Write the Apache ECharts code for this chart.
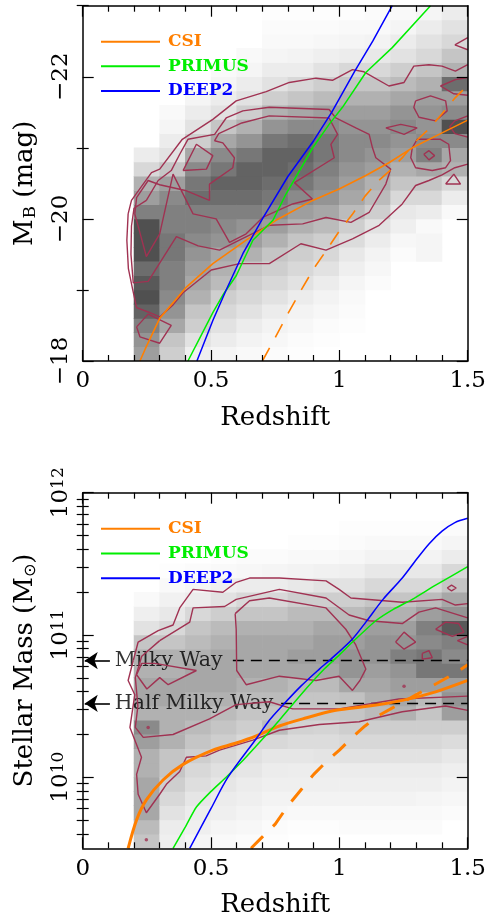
<!DOCTYPE html>
<html><head><meta charset="utf-8">
<script src="https://cdn.jsdelivr.net/npm/echarts@6/dist/echarts.min.js"></script>
<style>html,body{margin:0;padding:0;background:#fff}#c{width:489px;height:921px}</style>
</head><body><div id="c"></div>
<script>
// ---------- DATA ----------
const xTicks = [0, 0.5, 1, 1.5];
const cellLeftEdges = [0.2,0.3,0.4,0.5,0.6,0.7,0.8,0.9,1.0,1.1,1.2,1.3,1.4];
const cellWidth = 0.1;
// top panel: rows of 0.2 mag from -18 upward (brighter); density 0..10
const topRowStart = -18, topRowStep = -0.2;
const topDensity = [
 [5,5.5,6.5,8,9,8.5,7.5,9,9,9,6.5,5,4,2,1,0,0,0,0,0,0,0,0,0,0],
 [2.5,3,4.5,5.5,6,6.5,6.5,7,7,6.5,6.5,6,5,3,1.5,1,0.5,0.3,0,0,0,0,0,0,0],
 [0.8,1.5,2.5,3,4,4.5,5,5.5,6,6.5,6.5,7.5,7,6,4.5,2.5,1.5,1,0.5,0,0,0,0,0,0],
 [0.5,1,1.5,2,2.5,3.5,4,4.5,5.5,6,6.5,7.5,8,7,6,4.5,3,1.5,1,0.5,0.3,0,0,0,0],
 [0.3,0.6,1,1.5,2,2.5,3,4,5,5.5,6.5,7.5,8,8,7,5.5,4,2.5,1.5,1,0.5,0.3,0,0,0],
 [0.2,0.4,0.6,1,1.5,2,2.5,3,4,5,6,7,7.5,8,8,7,5.5,4,2.5,1.5,1,0.5,0.3,0.2,0.1],
 [0.1,0.2,0.4,0.6,1,1.5,2,2.5,3,4,5,6,7,7.5,8,7.5,6,4.5,3,2,1,0.6,0.3,0.2,0.1],
 [0,0.1,0.2,0.4,0.6,1,1.5,2,2.5,3.5,4.5,5.5,6,6.5,7,7,6,5,3.5,2.5,1.5,0.8,0.4,0.2,0.1],
 [0,0,0.1,0.2,0.3,0.5,0.8,1.2,1.8,2.5,3.5,4.5,5,5.5,6,6,5.5,5,4,3,2,1,0.5,0.3,0.1],
 [0,0,0,0,0,0.2,0.4,0.6,1,1.5,2.5,3.5,4,5,5.5,6,5.5,5,4,3,2,1.2,0.6,0.3,0.2],
 [0,0,0,0,0,0,0,0.2,0.4,0.8,1.2,2,3,4,5,5.5,6,5.5,4.5,3.5,2.5,1.5,1,0.5,0.3],
 [0,0,0,0,0,0,0,0.5,0.5,0.3,1,2,3,4.5,6.5,6,5.5,5.5,5,4,3,2,1.5,1,0.5],
 [0,0,0,0,0,0,0,0,0,0,0.3,1,2,4,4.5,6,9,6,5,7.5,4,3,2,1.5,1]
];
// bottom panel: rows of 0.1 dex from log M = 9.5 upward
const botRowStart = 9.5, botRowStep = 0.1;
const botDensity = [
 [3,3.5,4.5,4.5,4.5,4,4,5,6,4,4.5,4.5,4,4,3,1.5,0.8,0.3,0,0,0,0,0,0,0],
 [0.8,1,1.5,2,2.5,3,3,4,4,4,4.5,4.5,4,4,3,2,1.2,0.7,0.3,0.1,0,0,0,0,0],
 [0.5,0.8,1,1.3,1.7,2,2.5,3,3.5,4,4,4.5,4.5,4,3.5,3,2,1,0.5,0.2,0,0,0,0,0],
 [0.3,0.5,0.8,1,1.3,1.6,2,2.5,3,3.5,4,4.5,4.5,4.5,4,3.5,2.5,1.5,0.8,0.3,0.1,0,0,0,0],
 [0.2,0.4,0.6,0.8,1,1.3,1.6,2,2.5,3,3.5,4,4.5,4.5,4.5,4,3,2,1,0.4,0.2,0,0,0,0],
 [0.1,0.2,0.4,0.6,0.8,1,1.3,2,3.5,3,3.5,4,4.5,4.5,4.5,4,3,2,1,0.5,0.2,0,0,0,0],
 [0,0.1,0.3,0.6,0.8,0.9,1.3,1.8,2.3,2.8,3,3.5,4.5,5,4.5,4,3.5,2.5,1.2,0.6,0.3,0.1,0,0,0],
 [0,0.1,0.3,0.6,0.8,0.9,1.4,1.8,2.2,2.8,3,3.5,4.5,5,5,4.5,3.5,2.5,1.5,0.7,0.3,0.1,0,0,0],
 [0,0.2,0.3,0.6,0.8,1,1.5,2,2.5,3,3.2,4.5,5.5,5.5,5,4.5,3.5,2.5,1.5,0.8,0.4,0.2,0.1,0,0],
 [0,0.2,0.3,0.6,0.8,1,1.5,2,2.5,3.5,4,4.5,5,5.5,5.5,5,4,3,2,1.2,0.6,0.3,0.1,0,0],
 [0,0.2,0.3,0.6,0.8,1,1.5,2,2.5,4,4.5,5,5.5,6.5,5.5,5,4,3,2,1.2,0.6,0.3,0.1,0,0],
 [0,0.2,0.3,0.5,0.8,1,1.5,2,2.5,3,3.5,5,7,7,6,6.5,5,3.5,2,1.2,0.6,0.3,0.1,0,0],
 [0,0,0.2,0.4,0.6,0.8,1.2,1.8,2.5,5,5.5,5,7,6,6.5,8.5,5.5,4.5,3,2,1,0.5,0.2,0,0]
];

// curves, top panel: [redshift, M_B]
const topCSI = [[0.223,-18],[0.245,-18.18],[0.30,-18.60],[0.404,-19.04],[0.507,-19.37],[0.637,-19.70],[0.753,-19.98],[0.896,-20.26],[0.999,-20.42],[1.103,-20.61],[1.193,-20.79],[1.284,-21.00],[1.40,-21.21],[1.5,-21.39]];
const topCSIlimit = [[0.70,-18.0],[0.75,-18.33],[0.80,-18.67],[0.85,-18.99],[0.90,-19.30],[0.95,-19.56],[1.00,-19.83],[1.05,-20.06],[1.10,-20.32],[1.15,-20.53],[1.20,-20.69],[1.25,-20.88],[1.30,-21.10],[1.35,-21.27],[1.40,-21.48],[1.45,-21.70],[1.50,-21.88]];
const topPRIMUS = [[0.41,-18],[0.46,-18.35],[0.507,-18.68],[0.55,-18.95],[0.598,-19.2],[0.663,-19.70],[0.741,-19.98],[0.792,-20.35],[0.896,-21.0],[0.96,-21.33],[1.012,-21.57],[1.103,-22.06],[1.206,-22.41],[1.355,-23.0]];
const topDEEP2 = [[0.445,-18],[0.507,-18.57],[0.559,-19.0],[0.624,-19.51],[0.70,-20.0],[0.80,-20.60],[0.90,-21.10],[0.97,-21.50],[1.06,-22.08],[1.13,-22.5],[1.206,-23.0]];

// curves, bottom panel: [redshift, log10 M*/Msun]
const botCSI = [[0.177,9.50],[0.21,9.70],[0.248,9.84],[0.313,9.98],[0.391,10.09],[0.507,10.19],[0.598,10.24],[0.676,10.29],[0.766,10.36],[0.857,10.41],[0.986,10.47],[1.116,10.50],[1.245,10.54],[1.375,10.60],[1.5,10.68]];
const botCSIlimit = [[0.656,9.50],[0.70,9.58],[0.75,9.67],[0.80,9.80],[0.85,9.91],[0.90,10.02],[0.95,10.11],[1.0,10.19],[1.05,10.28],[1.10,10.36],[1.15,10.43],[1.20,10.48],[1.25,10.53],[1.30,10.58],[1.35,10.63],[1.40,10.68],[1.45,10.73],[1.50,10.79]];
const botPRIMUS = [[0.352,9.50],[0.40,9.65],[0.443,9.79],[0.50,9.90],[0.559,10.0],[0.62,10.11],[0.676,10.22],[0.727,10.32],[0.766,10.40],[0.85,10.58],[0.941,10.76],[1.0,10.86],[1.051,10.95],[1.142,11.10],[1.21,11.18],[1.284,11.25],[1.375,11.35],[1.5,11.48]];
const botDEEP2 = [[0.417,9.50],[0.5,9.78],[0.566,10.0],[0.676,10.27],[0.727,10.40],[0.766,10.48],[0.85,10.64],[0.922,10.76],[0.967,10.83],[1.05,10.97],[1.103,11.09],[1.17,11.25],[1.245,11.40],[1.30,11.53],[1.349,11.64],[1.40,11.73],[1.45,11.79],[1.5,11.82]];

// density contours, top panel
const topContours = [
 [[0.177,-20.07],[0.19,-20.26],[0.268,-20.65],[0.30,-20.70],[0.388,-21.12],[0.507,-21.40],[0.598,-21.66],[0.715,-21.79],[0.805,-21.92],[0.909,-21.98],[0.973,-21.95],[1.051,-22.10],[1.096,-22.07],[1.193,-21.87],[1.252,-21.92],[1.29,-22.15],[1.349,-22.17],[1.40,-22.15],[1.452,-22.08],[1.5,-22.17]],
 [[0.177,-20.07],[0.172,-19.7],[0.178,-19.3],[0.195,-19.0],[0.21,-18.75],[0.255,-18.69],[0.30,-18.62],[0.352,-18.79],[0.391,-18.96],[0.501,-19.28],[0.611,-19.37],[0.727,-19.37],[0.85,-19.65],[0.948,-19.56],[1.051,-19.72],[1.155,-19.91],[1.245,-20.21],[1.297,-20.47],[1.349,-20.54],[1.40,-20.62],[1.45,-20.72],[1.5,-20.77]],
 [[0.21,-18.48],[0.255,-18.66],[0.345,-18.50],[0.30,-18.25],[0.223,-18.34],[0.21,-18.48]],
 [[0.248,-20.26],[0.294,-20.54],[0.345,-20.68],[0.378,-20.91],[0.410,-21.12],[0.514,-21.19],[0.559,-21.42],[0.624,-21.52],[0.727,-21.57],[0.96,-21.54],[0.986,-21.42],[1.064,-21.28],[1.116,-21.19],[1.129,-21.0],[1.142,-20.86],[1.2,-20.70],[1.181,-20.49],[1.116,-20.09],[1.045,-19.95],[0.948,-20.02],[0.857,-19.93],[0.727,-19.91],[0.62,-19.72],[0.533,-19.56],[0.45,-19.62],[0.365,-19.75],[0.255,-19.12],[0.197,-19.10],[0.188,-19.5],[0.19,-19.9],[0.20,-20.15],[0.248,-20.26]],
 [[0.203,-20.07],[0.248,-19.47],[0.30,-19.79],[0.352,-20.63],[0.43,-20.07],[0.52,-20.0],[0.572,-19.67],[0.637,-19.79],[0.701,-20.02],[0.818,-20.21],[0.895,-20.28],[0.825,-20.51],[0.98,-20.86],[0.967,-21.05],[0.993,-21.19],[0.96,-21.42],[0.727,-21.45],[0.62,-21.35],[0.53,-21.2],[0.514,-21.10],[0.546,-21.07],[0.591,-20.86],[0.585,-20.72],[0.494,-20.49],[0.494,-20.26],[0.40,-20.40],[0.30,-20.48],[0.255,-20.54],[0.21,-20.30],[0.203,-20.07]],
 [[0.391,-20.68],[0.443,-21.05],[0.507,-20.89],[0.482,-20.70],[0.391,-20.68]],
 [[1.45,-22.45],[1.5,-22.55]],
 [[1.5,-22.38],[1.45,-22.45]],
 [[1.394,-21.87],[1.452,-21.96],[1.5,-21.99]],
 [[1.5,-21.74],[1.446,-21.76],[1.394,-21.87]],
 [[1.297,-21.66],[1.355,-21.73],[1.414,-21.66],[1.42,-21.52],[1.375,-21.38],[1.31,-21.43],[1.29,-21.57],[1.297,-21.66]],
 [[1.181,-21.28],[1.239,-21.33],[1.303,-21.28],[1.252,-21.19],[1.181,-21.28]],
 [[1.284,-21.0],[1.303,-21.12],[1.394,-21.12],[1.426,-21.05],[1.433,-20.82],[1.414,-20.72],[1.362,-20.68],[1.297,-20.72],[1.278,-20.86],[1.284,-21.0]],
 [[1.329,-20.91],[1.349,-20.96],[1.371,-20.89],[1.349,-20.83],[1.329,-20.91]],
 [[1.414,-20.49],[1.446,-20.63],[1.472,-20.49],[1.414,-20.49]],
 [[1.5,-21.45],[1.45,-21.38],[1.43,-21.3],[1.45,-21.2],[1.5,-21.15]]
];
// density contours, bottom panel
const botContours = [
 [[0.197,10.82],[0.216,10.95],[0.294,11.03],[0.352,11.07],[0.378,11.19],[0.43,11.32],[0.546,11.30],[0.598,11.37],[0.65,11.40],[0.766,11.40],[0.948,11.38],[0.999,11.32],[1.045,11.26],[1.245,11.23],[1.40,11.25],[1.452,11.21],[1.5,11.22]],
 [[0.197,10.82],[0.177,10.68],[0.203,10.58],[0.184,10.35],[0.229,10.14],[0.21,10.02],[0.216,9.88],[0.248,9.75],[0.30,9.88],[0.326,9.95],[0.378,10.04],[0.404,10.14],[0.481,10.15],[0.533,10.19],[0.663,10.26],[0.766,10.33],[0.922,10.37],[1.077,10.39],[1.245,10.46],[1.414,10.50],[1.5,10.47]],
 [[0.30,10.96],[0.417,11.09],[0.43,11.19],[0.553,11.20],[0.598,11.25],[0.766,11.32],[0.948,11.26],[1.038,11.14],[1.116,11.10],[1.245,11.08],[1.31,11.16],[1.375,11.19],[1.5,11.12]],
 [[1.5,10.57],[1.232,10.55],[0.999,10.48],[0.818,10.48],[0.727,10.53],[0.598,10.51],[0.494,10.41],[0.352,10.30],[0.236,10.28],[0.205,10.35],[0.215,10.5],[0.205,10.7],[0.23,10.85],[0.30,10.96]],
 [[0.594,11.15],[0.65,11.24],[0.727,11.26],[0.948,11.19],[1.025,11.04],[1.064,10.93],[1.103,10.76],[1.08,10.68],[1.051,10.61],[0.999,10.71],[0.909,10.68],[0.766,10.71],[0.637,10.65],[0.60,10.75],[0.598,11.04],[0.594,11.15]],
 [[0.21,10.72],[0.23,10.80],[0.281,10.80],[0.443,10.75],[0.333,10.65],[0.30,10.70],[0.25,10.62],[0.21,10.72]],
 [[1.42,11.33],[1.437,11.35],[1.455,11.33],[1.437,11.31],[1.42,11.33]],
 [[1.219,10.95],[1.252,11.02],[1.297,10.95],[1.252,10.90],[1.219,10.95]],
 [[1.323,10.87],[1.349,10.89],[1.362,10.84],[1.323,10.83],[1.323,10.87]],
 [[1.375,11.04],[1.414,11.09],[1.465,11.08],[1.485,11.02],[1.44,10.99],[1.375,11.04]],
 [[1.5,10.93],[1.46,10.96],[1.5,10.99]]
];
const botContourDots = [[0.255,10.35],[0.248,9.56],[1.252,10.64]];

// reference masses
const milkyWayMass = 6.6e10;
const refNames = ['Milky Way', 'Half Milky Way'];
const refFractions = [1, 0.5];
const refLineStart = [0.585, 0.773];

const legendNames = ['CSI', 'PRIMUS', 'DEEP2'];
const colors = {CSI:'#ff7f00', PRIMUS:'#00ee00', DEEP2:'#0000ff', contour:'#a03252'};

// ---------- BUILD ----------
const serif = 'DejaVu Serif';
function cells(grid, start, step) {
  const out = [];
  grid.forEach((col, ci) => col.forEach((d, ri) => { if (d > 0) out.push([cellLeftEdges[ci], start + step * ri, d]); }));
  return out;
}
function heat(grid, start, step, xi, yi) {
  return {
    type: 'custom', xAxisIndex: xi, yAxisIndex: yi, silent: true, z: 1, clip: true,
    data: cells(grid, start, step), encode: {x: 0, y: 1},
    renderItem(params, api) {
      const x0 = api.value(0), y0 = api.value(1), d = api.value(2);
      const p1 = api.coord([x0, y0]), p2 = api.coord([x0 + cellWidth, y0 + step]);
      const g = Math.round(255 - d * 19.5);
      return {type: 'rect',
        shape: {x: Math.min(p1[0], p2[0]) - 0.3, y: Math.min(p1[1], p2[1]) - 0.3,
                width: Math.abs(p2[0] - p1[0]) + 0.6, height: Math.abs(p2[1] - p1[1]) + 0.6},
        style: {fill: 'rgb(' + g + ',' + g + ',' + g + ')'}};
    }
  };
}
function line(name, data, xi, yi, color, width, dash, smooth) {
  return {type: 'line', name: name, data: data, xAxisIndex: xi, yAxisIndex: yi,
    symbol: 'none', showSymbol: false, smooth: smooth || false, silent: true, z: 4, clip: true,
    lineStyle: {color: color, width: width, type: dash || 'solid'}, itemStyle: {color: color}};
}
function xAxes(grid) {
  const base = {type: 'value', gridIndex: grid, min: 0, max: 1.5, interval: 0.5, z: 10,
    axisLine: {show: true, onZero: false, lineStyle: {color: '#000', width: 1.5}},
    axisTick: {show: true, inside: true, length: 11, lineStyle: {color: '#000', width: 1.2}},
    minorTick: {show: true, splitNumber: 5, length: 6, lineStyle: {color: '#000', width: 1.2}},
    splitLine: {show: false}, minorSplitLine: {show: false}};
  return [
    Object.assign({}, base, {position: 'bottom',
      axisLabel: {show: true, margin: 9, fontFamily: serif, fontSize: 23, color: '#000', formatter: v => String(v)},
      name: 'Redshift', nameLocation: 'middle', nameGap: 44,
      nameTextStyle: {fontFamily: serif, fontSize: 26, color: '#000'}}),
    Object.assign({}, base, {position: 'top', axisLabel: {show: false}})
  ];
}
function yAxes(grid, min, max, inverse, major, minor, labelFmt, labelRich, name, nameRich) {
  const base = {type: 'value', gridIndex: grid, min: min, max: max, inverse: inverse, z: 10,
    splitLine: {show: false}, axisLabel: {show: false}};
  const tick = (vals, len) => ({show: true, inside: true, length: len, customValues: vals, lineStyle: {color: '#000', width: 1.2}});
  return [
    Object.assign({}, base, {position: 'left',
      axisLine: {show: true, onZero: false, lineStyle: {color: '#000', width: 1.5}},
      axisTick: tick(major, 11),
      axisLabel: {show: true, customValues: major, rotate: 90, margin: 10, fontFamily: serif, fontSize: 23,
        color: '#000', formatter: labelFmt, rich: labelRich},
      name: name, nameLocation: 'middle', nameGap: 44, nameRotate: 90,
      nameTextStyle: {fontFamily: serif, fontSize: 26, color: '#000', rich: nameRich}}),
    Object.assign({}, base, {position: 'left', axisLine: {show: false}, axisTick: tick(minor, 6)}),
    Object.assign({}, base, {position: 'right',
      axisLine: {show: true, onZero: false, lineStyle: {color: '#000', width: 1.5}}, axisTick: tick(major, 11)}),
    Object.assign({}, base, {position: 'right', axisLine: {show: false}, axisTick: tick(minor, 6)})
  ];
}

const topMajor = [-22, -20, -18], topMinor = [-23, -21, -19];
const botMajor = [10, 11, 12];
const minorMantissas = [2, 3, 4, 5, 6, 7, 8, 9];
const botMinor = [];
[9, 10, 11].forEach(e => minorMantissas.forEach(m => { const v = e + Math.log10(m); if (v > 9.5 && v < 12) botMinor.push(v); }));

const serif26 = {fontFamily: serif, fontSize: 26, color: '#000'};
const series = [];
// top panel
series.push(heat(topDensity, topRowStart, topRowStep, 0, 0));
topContours.forEach(c => series.push(line('', c, 0, 0, colors.contour, 1.4)));
series.push(line('', topCSIlimit, 0, 0, colors.CSI, 1.6, [15, 12]));
series.push(line('CSI', topCSI, 0, 0, colors.CSI, 1.6));
series.push(line('PRIMUS', topPRIMUS, 0, 0, colors.PRIMUS, 1.5));
series.push(line('DEEP2', topDEEP2, 0, 0, colors.DEEP2, 1.5));
// bottom panel
series.push(heat(botDensity, botRowStart, botRowStep, 2, 4));
botContours.forEach(c => series.push(line('', c, 2, 4, colors.contour, 1.4)));
series.push({type: 'scatter', xAxisIndex: 2, yAxisIndex: 4, data: botContourDots, symbol: 'circle', symbolSize: 3.5,
  itemStyle: {color: colors.contour}, silent: true, z: 3});
refNames.forEach((nm, i) => {
  const lm = Math.log10(milkyWayMass * refFractions[i]);
  series.push({type: 'line', xAxisIndex: 2, yAxisIndex: 4, data: [[refLineStart[i], lm], [1.5, lm]],
    symbol: 'none', silent: true, z: 3, lineStyle: {color: '#000', width: 1.5, type: [11, 7]},
    markLine: {silent: true, symbol: ['none', 'arrow'], symbolSize: 13, animation: false,
      lineStyle: {color: '#000', width: 1.6, type: 'solid'}, label: {show: false},
      data: [[{coord: [0.106, lm]}, {coord: [0.008, lm]}]]}});
  series.push({type: 'scatter', xAxisIndex: 2, yAxisIndex: 4, data: [[0.125, lm]], symbolSize: 0, silent: true, z: 3,
    label: {show: true, position: 'right', distance: 0, formatter: nm, fontFamily: serif, fontSize: 20.5, color: '#000'}});
});
series.push(line('', botCSIlimit, 2, 4, colors.CSI, 3, [17, 14]));
series.push(line('CSI', botCSI, 2, 4, colors.CSI, 3, 'solid', 0.3));
series.push(line('PRIMUS', botPRIMUS, 2, 4, colors.PRIMUS, 1.5, 'solid', 0.2));
series.push(line('DEEP2', botDEEP2, 2, 4, colors.DEEP2, 1.5, 'solid', 0.3));

function legend(top) {
  return {show: true, orient: 'vertical', left: 101, top: top, padding: 0, itemGap: 0,
    itemWidth: 59, itemHeight: 2, icon: 'rect', selectedMode: false,
    data: legendNames.map(n => ({name: n, icon: 'rect', itemStyle: {color: colors[n]}, textStyle: {color: colors[n]}})),
    textStyle: {fontFamily: serif, fontSize: 17, fontWeight: 'bold', lineHeight: 24.7, padding: [0, 0, 0, 3]}};
}

const option = {
  animation: false, backgroundColor: '#fff',
  grid: [
    {left: 82.7, right: 20, top: 5.7, height: 355.3},
    {left: 82.7, right: 20, top: 492.7, height: 355.6}
  ],
  xAxis: [].concat(xAxes(0), xAxes(1)),
  yAxis: [].concat(
    yAxes(0, -23, -18, true, topMajor, topMinor, v => '−' + Math.abs(v), {}, '{m|M}{s|B}{m| (mag)}',
      {m: serif26, s: {fontFamily: serif, fontSize: 17, color: '#000', verticalAlign: 'bottom', padding: [0, 0, 0, 1]}}),
    yAxes(1, 9.5, 12, false, botMajor, botMinor, v => '{b|10}{p|' + Math.round(v) + '}',
      {b: {fontFamily: serif, fontSize: 23, color: '#000'}, p: {fontFamily: serif, fontSize: 17, color: '#000', verticalAlign: 'top'}},
      '{m|Stellar Mass (M}{s|⊙}{m|)}',
      {m: serif26, s: {fontFamily: 'DejaVu Sans', fontSize: 16, color: '#000', verticalAlign: 'bottom'}})
  ),
  legend: [legend(29.3), legend(516.5)],
  series: series
};
const chart = echarts.init(document.getElementById('c'), null, {renderer: 'canvas'});
chart.setOption(option);
</script></body></html>
